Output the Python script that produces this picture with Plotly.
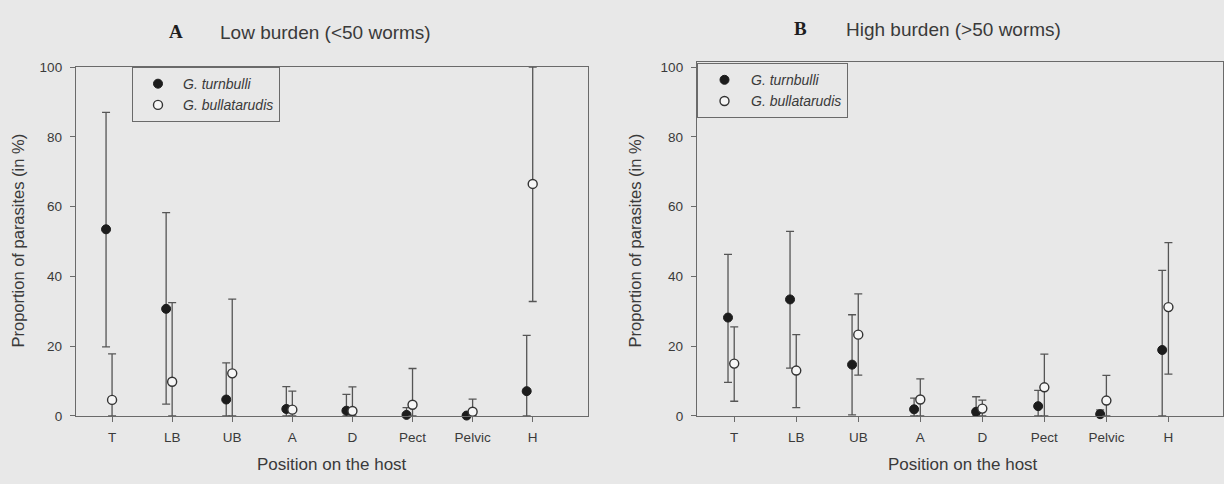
import numpy as np
import plotly.graph_objects as go

categories = ["T", "LB", "UB", "A", "D", "Pect", "Pelvic", "H"]

# Panel A - low burden (<50 worms)
a_turn = [53.5, 30.7, 4.7, 2.0, 1.5, 0.3, 0.1, 7.1]
a_turn_lo = [19.8, 3.4, 0.0, 0.0, 0.0, 0.0, 0.0, 0.0]
a_turn_hi = [87.0, 58.3, 15.2, 8.4, 6.2, 2.4, 0.3, 23.1]
a_bull = [4.6, 9.8, 12.2, 1.8, 1.4, 3.2, 1.2, 66.5]
a_bull_lo = [0.0, 0.0, 0.0, 0.0, 0.0, 0.0, 0.0, 32.8]
a_bull_hi = [17.8, 32.5, 33.5, 7.1, 8.3, 13.6, 4.8, 100.0]

# Panel B - high burden (>50 worms)
b_turn = [28.2, 33.4, 14.7, 1.9, 1.2, 2.8, 0.5, 18.9]
b_turn_lo = [9.6, 13.7, 0.3, 0.0, 0.0, 0.0, 0.0, 0.0]
b_turn_hi = [46.3, 52.9, 29.0, 5.1, 5.5, 7.3, 1.7, 41.7]
b_bull = [15.0, 13.0, 23.3, 4.7, 2.1, 8.2, 4.4, 31.2]
b_bull_lo = [4.2, 2.4, 11.7, 0.0, 0.0, 0.0, 0.0, 12.0]
b_bull_hi = [25.5, 23.3, 35.0, 10.6, 4.5, 17.7, 11.6, 49.7]

yticks = [0, 20, 40, 60, 80, 100]

BG = "#e8e8e8"
LINE = "#6a6a6a"
TXT = "#3a3a3a"
FONT = "Liberation Sans, Arial, sans-serif"

pos = np.arange(1, len(categories) + 1)
offset = 0.1

fig = go.Figure()


def add_panel(xa, ya, legend, turn, tlo, thi, bull, blo, bhi):
    turn = np.array(turn); tlo = np.array(tlo); thi = np.array(thi)
    bull = np.array(bull); blo = np.array(blo); bhi = np.array(bhi)
    fig.add_trace(go.Scatter(
        x=pos - offset, y=turn, mode="markers", name="<i>G. turnbulli</i>",
        xaxis=xa, yaxis=ya, legend=legend, cliponaxis=False,
        marker=dict(color="#1c1c1c", size=9, line=dict(color="#1c1c1c", width=1)),
        error_y=dict(type="data", symmetric=False, array=thi - turn,
                     arrayminus=turn - tlo, color="#555555", thickness=1.3, width=4),
    ))
    fig.add_trace(go.Scatter(
        x=pos, y=bull, mode="markers", name="<i>G. bullatarudis</i>",
        xaxis=xa, yaxis=ya, legend=legend, cliponaxis=False,
        marker=dict(color="#f6f6f6", size=9, line=dict(color="#333333", width=1.4)),
        error_y=dict(type="data", symmetric=False, array=bhi - bull,
                     arrayminus=bull - blo, color="#555555", thickness=1.3, width=4),
    ))


add_panel("x", "y", "legend", a_turn, a_turn_lo, a_turn_hi, a_bull, a_bull_lo, a_bull_hi)
add_panel("x2", "y2", "legend2", b_turn, b_turn_lo, b_turn_hi, b_bull, b_bull_lo, b_bull_hi)

W, H = 1224, 484
yb = (H - 422) / H

xcommon = dict(
    tickvals=list(pos), ticktext=categories,
    showline=True, linecolor=LINE, linewidth=1.3, mirror=True,
    ticks="outside", ticklen=5, tickcolor=LINE, tickwidth=1.2,
    showgrid=False, zeroline=False, ticklabelstandoff=4,
    tickfont=dict(family=FONT, size=13.5, color=TXT),
)
ycommon = dict(
    tickvals=yticks, showline=True, linecolor=LINE, linewidth=1.3, mirror=True,
    ticks="outside", ticklen=5, tickcolor=LINE, tickwidth=1.2,
    showgrid=False, zeroline=False, ticklabelstandoff=5,
    tickfont=dict(family=FONT, size=13.5, color=TXT),
)
legcommon = dict(
    xanchor="left", yanchor="top", bgcolor=BG, bordercolor=LINE, borderwidth=1,
    font=dict(family=FONT, size=14, color=TXT), tracegroupgap=0,
)

fig.update_layout(
    width=W, height=H, paper_bgcolor=BG, plot_bgcolor=BG,
    margin=dict(l=0, r=0, t=0, b=0),
    font=dict(family=FONT, color=TXT),
    xaxis=dict(xcommon, domain=[76 / W, 588 / W], anchor="y", range=[0.4, 8.92]),
    yaxis=dict(ycommon, domain=[yb, (H - 62) / H], range=[0, 100], anchor="x"),
    xaxis2=dict(xcommon, domain=[697 / W, 1223 / W], anchor="y2", range=[0.4, 8.88]),
    yaxis2=dict(ycommon, domain=[yb, (H - 57) / H], range=[0, 101.4], anchor="x2"),
    legend=dict(legcommon, x=132 / W, y=(H - 62) / H, itemwidth=40),
    legend2=dict(legcommon, x=697 / W, y=(H - 58) / H, itemwidth=43),
    showlegend=True,
)

annots = [
    dict(x=176, y=25, text="<b>A</b>", font=dict(family="Liberation Serif, serif", size=19, color="#1e1e1e")),
    dict(x=325, y=26, text="Low burden (<50 worms)", font=dict(family=FONT, size=19, color=TXT)),
    dict(x=800, y=22, text="<b>B</b>", font=dict(family="Liberation Serif, serif", size=19, color="#1e1e1e")),
    dict(x=953, y=23, text="High burden (>50 worms)", font=dict(family=FONT, size=19, color=TXT)),
    dict(x=332, y=472, text="Position on the host", font=dict(family=FONT, size=17, color=TXT)),
    dict(x=963, y=472, text="Position on the host", font=dict(family=FONT, size=17, color=TXT)),
    dict(x=18, y=241, text="Proportion of parasites (in %)", textangle=-90,
         font=dict(family=FONT, size=16.5, color=TXT)),
    dict(x=635, y=241, text="Proportion of parasites (in %)", textangle=-90,
         font=dict(family=FONT, size=16.5, color=TXT)),
]
for a in annots:
    fig.add_annotation(x=a["x"] / W, y=(H - a["y"]) / H, xref="paper", yref="paper",
                       text=a["text"], showarrow=False, font=a["font"],
                       textangle=a.get("textangle", 0),
                       xanchor="center", yanchor="middle")

fig.write_html("out.html", config={"displayModeBar": False},
               post_script="document.body.style.margin='0';")
